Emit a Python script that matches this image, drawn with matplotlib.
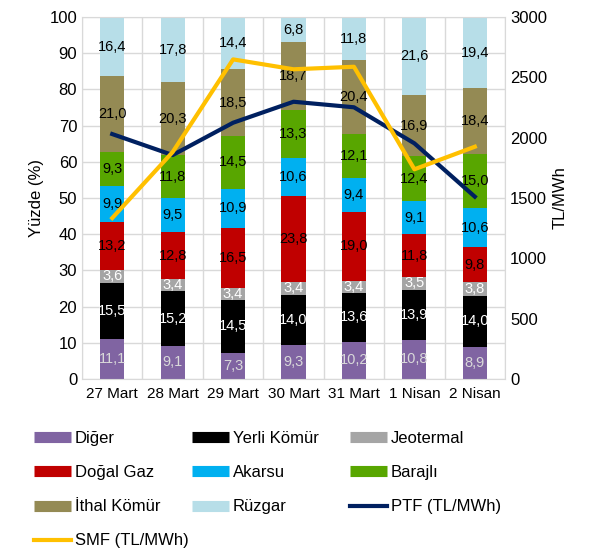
import numpy as np
import matplotlib.pyplot as plt
from matplotlib.lines import Line2D

plt.rcParams['font.family'] = ['Liberation Sans', 'DejaVu Sans']

days = ["27 Mart", "28 Mart", "29 Mart", "30 Mart", "31 Mart", "1 Nisan", "2 Nisan"]

# stacked shares (%) bottom to top
diger = [11.1, 9.1, 7.3, 9.3, 10.2, 10.8, 8.9]
yerli_komur = [15.5, 15.2, 14.5, 14.0, 13.6, 13.9, 14.0]
jeotermal = [3.6, 3.4, 3.4, 3.4, 3.4, 3.5, 3.8]
dogal_gaz = [13.2, 12.8, 16.5, 23.8, 19.0, 11.8, 9.8]
akarsu = [9.9, 9.5, 10.9, 10.6, 9.4, 9.1, 10.6]
barajli = [9.3, 11.8, 14.5, 13.3, 12.1, 12.4, 15.0]
ithal_komur = [21.0, 20.3, 18.5, 18.7, 20.4, 16.9, 18.4]
ruzgar = [16.4, 17.8, 14.4, 6.8, 11.8, 21.6, 19.4]

# prices (TL/MWh)
ptf = [2030, 1856, 2124, 2298, 2252, 1953, 1511]
smf = [1334, 1881, 2649, 2567, 2588, 1738, 1925]

series = [
    ("Diğer", diger, "#8064A2", "#D9D9D9"),
    ("Yerli Kömür", yerli_komur, "#000000", "white"),
    ("Jeotermal", jeotermal, "#A5A5A5", "white"),
    ("Doğal Gaz", dogal_gaz, "#C00000", "black"),
    ("Akarsu", akarsu, "#00B0F0", "black"),
    ("Barajlı", barajli, "#58A600", "black"),
    ("İthal Kömür", ithal_komur, "#948A54", "black"),
    ("Rüzgar", ruzgar, "#B7DEE8", "black"),
]

fig = plt.figure(figsize=(5.9, 5.5), dpi=100)
ax = fig.add_axes([0.139, 0.311, 0.717, 0.658])
x = np.arange(len(days))

bottom = np.zeros(len(days))
handles = []
for name, vals, color, tcolor in series:
    vals = np.array(vals)
    ax.bar(x, vals, 0.4, bottom=bottom, color=color, zorder=2)
    for xi, b, v in zip(x, bottom, vals):
        ax.text(xi, b + v / 2, f"{v:.1f}".replace(".", ","), ha="center",
                va="center", fontsize=10.5, color=tcolor, zorder=3)
    bottom += vals
    handles.append(Line2D([], [], color=color, lw=8, solid_capstyle="butt", label=name))

ax.set_ylim(0, 100)
ax.set_yticks(range(0, 101, 10))
ax.set_xlim(-0.5, len(days) - 0.5)
ax.set_xticks(x)
ax.set_xticklabels(days, fontsize=11)
ax.tick_params(axis="y", labelsize=12, length=0)
ax.tick_params(axis="x", length=0, pad=6)
ax.set_ylabel("Yüzde (%)", fontsize=12)
ax.set_xticks(np.arange(-0.5, len(days), 1), minor=True)
ax.tick_params(axis="x", which="minor", length=0)
ax.grid(axis="y", color="#D9D9D9", lw=1, zorder=0)
ax.grid(axis="x", which="minor", color="#D9D9D9", lw=1, zorder=0)
for s in ax.spines.values():
    s.set_color("#D9D9D9")

ax2 = ax.twinx()
ax2.plot(x, ptf, color="#002060", lw=3, zorder=4)
ax2.plot(x, smf, color="#FFC000", lw=3, zorder=4)
ax2.set_ylim(0, 3000)
ax2.set_yticks(range(0, 3001, 500))
ax2.tick_params(axis="y", labelsize=12, length=0)
ax2.set_ylabel("TL/MWh", fontsize=12)
for s in ax2.spines.values():
    s.set_visible(False)

handles += [Line2D([], [], color="#002060", lw=3, label="PTF (TL/MWh)"),
            Line2D([], [], color="#FFC000", lw=3, label="SMF (TL/MWh)")]

# equal-width legend columns, filled row by row
for c, xpos in enumerate([34, 192, 350]):
    col = handles[c::3]
    fig.legend(handles=col, loc="upper left",
               bbox_to_anchor=(xpos / 590, 1 - 431 / 550),
               frameon=False, fontsize=12, handlelength=2.2,
               labelspacing=1.15, handletextpad=0.25,
               borderaxespad=0, borderpad=0)

fig.savefig("out.png", dpi=100)
